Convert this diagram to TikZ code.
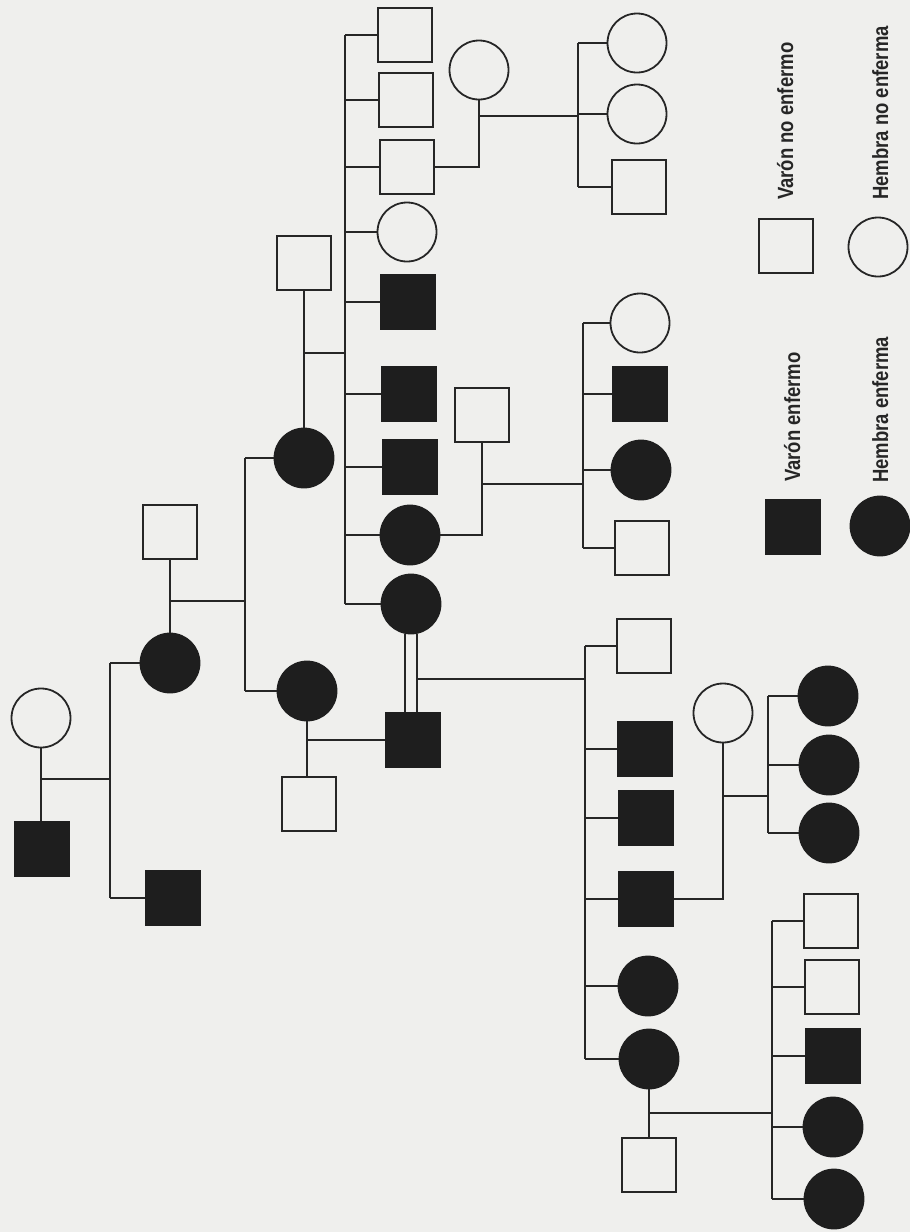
\documentclass[tikz,border=0pt]{standalone}
\usepackage{fontspec}
\setmainfont{Liberation Sans}
\newfontfamily\legfont[FakeStretch=0.84]{Liberation Sans}
\definecolor{bg}{RGB}{239,239,237}
\definecolor{ink}{RGB}{38,38,38}
\definecolor{dark}{RGB}{30,30,30}
\tikzset{
  ln/.style={draw=ink, line width=1.8pt},
  msq/.style={draw=ink, line width=1.8pt, minimum size=54pt, inner sep=0pt, rectangle},
  asq/.style={msq, fill=dark, draw=dark},
  fc/.style={draw=ink, line width=1.8pt, minimum size=59pt, inner sep=0pt, circle},
  ac/.style={fc, fill=dark, draw=dark},
  legtext/.style={rotate=90, anchor=base west, inner sep=0pt, font=\legfont\bfseries\fontsize{22}{24}\selectfont, text=ink}
}
\begin{document}
\begin{tikzpicture}[x=1pt,y=-1pt]
\useasboundingbox (0,0) rectangle (910,1232);
\fill[bg] (0,0) rectangle (910,1232);

% ---------- Generation I ----------
\node[fc]  (gm1) at (41,718) {};
\node[asq] (p1)  at (42,849) {};
\node[ac]  (f1)  at (170,663) {};
\node[asq] (m1)  at (173,898) {};
\node[msq] (s1)  at (170,532) {};

\coordinate (j0) at (42,779);
\coordinate (sA) at (110,779);
\draw[ln] (gm1.south) -- (gm1.south |- p1.north);
\draw[ln] (j0) -- (sA);
\draw[ln] (sA |- f1.west) -- (sA |- m1.west);
\draw[ln] (sA |- f1.west) -- (f1.west);
\draw[ln] (sA |- m1.west) -- (m1.west);

% ---------- Generation II ----------
\node[ac]  (f2) at (304,458) {};
\node[ac]  (f3) at (307,691) {};
\node[msq] (s2) at (304,263) {};
\node[msq] (s3) at (309,804) {};

\draw[ln] (s1.south) -- (f1.north);
\coordinate (j1) at (170,601);
\coordinate (sB) at (245,601);
\draw[ln] (j1) -- (sB);
\draw[ln] (sB |- f2.west) -- (sB |- f3.west);
\draw[ln] (sB |- f2.west) -- (f2.west);
\draw[ln] (sB |- f3.west) -- (f3.west);

% ---------- children of s2 x f2 ----------
\node[msq] (c1) at (405,35) {};
\node[msq] (c2) at (406,100) {};
\node[msq] (c3) at (407,167) {};
\node[fc]  (c4) at (407,232) {};
\node[asq] (c5) at (408,302) {};
\node[asq] (c6) at (409,394) {};
\node[asq] (c7) at (410,467) {};
\node[ac]  (c8) at (410,535) {};
\node[ac]  (c9) at (411,604) {};

\draw[ln] (s2.south) -- (f2.north);
\coordinate (j2) at (304,353);
\coordinate (sC) at (345,353);
\draw[ln] (j2) -- (sC);
\draw[ln] (sC |- c1.west) -- (sC |- c9.west);
\foreach \c in {c1,c2,c3,c4,c5,c6,c7,c8,c9}
  \draw[ln] (sC |- \c.west) -- (\c.west);

% ---------- f3 x s3 -> m2 ----------
\node[asq] (m2) at (413,740) {};
\draw[ln] (f3.south) -- (f3.south |- s3.north);
\draw[ln] (f3.south |- m2.west) -- (m2.west);

% consanguineous marriage c9 = m2
\coordinate (dA) at (405,634);
\coordinate (dB) at (417,634);
\draw[ln] (dA) -- (dA |- m2.north);
\draw[ln] (dB) -- (dB |- m2.north);

% ---------- children of c9 x m2 ----------
\node[msq] (g1) at (644,646) {};
\node[asq] (g2) at (645,749) {};
\node[asq] (g3) at (646,818) {};
\node[asq] (g4) at (646,899) {};
\node[ac]  (g5) at (648,986) {};
\node[ac]  (g6) at (649,1059) {};

\coordinate (j3) at (417,679);
\coordinate (sD) at (585,679);
\draw[ln] (j3) -- (sD);
\draw[ln] (sD |- g1.west) -- (sD |- g6.west);
\foreach \g in {g1,g2,g3,g4,g5,g6}
  \draw[ln] (sD |- \g.west) -- (\g.west);

% ---------- g4 x w1 ----------
\node[fc]  (w1) at (723,713) {};
\node[ac]  (h1) at (828,696) {};
\node[ac]  (h2) at (829,765) {};
\node[ac]  (h3) at (829,833) {};
\draw[ln] (g4.east) -| (w1.south);
\coordinate (j4) at (723,796);
\coordinate (sE) at (768,796);
\draw[ln] (j4) -- (sE);
\draw[ln] (sE |- h1.west) -- (sE |- h3.west);
\foreach \h in {h1,h2,h3}
  \draw[ln] (sE |- \h.west) -- (\h.west);

% ---------- g6 x s4 ----------
\node[msq] (s4) at (649,1165) {};
\node[msq] (k1) at (831,921) {};
\node[msq] (k2) at (832,987) {};
\node[asq] (k3) at (833,1056) {};
\node[ac]  (k4) at (833,1127) {};
\node[ac]  (k5) at (834,1199) {};
\draw[ln] (g6.south) -- (s4.north);
\coordinate (j5) at (649,1113);
\coordinate (sF) at (772,1113);
\draw[ln] (j5) -- (sF);
\draw[ln] (sF |- k1.west) -- (sF |- k5.west);
\foreach \k in {k1,k2,k3,k4,k5}
  \draw[ln] (sF |- \k.west) -- (\k.west);

% ---------- c3 x w2 ----------
\node[fc]  (w2) at (479,70) {};
\node[fc]  (d1) at (637,43) {};
\node[fc]  (d2) at (637,114) {};
\node[msq] (d3) at (639,187) {};
\draw[ln] (c3.east) -| (w2.south);
\coordinate (j6) at (479,116);
\coordinate (sG) at (578,116);
\draw[ln] (j6) -- (sG);
\draw[ln] (sG |- d1.west) -- (sG |- d3.west);
\foreach \d in {d1,d2,d3}
  \draw[ln] (sG |- \d.west) -- (\d.west);

% ---------- c8 x s5 ----------
\node[msq] (s5) at (482,415) {};
\node[fc]  (e1) at (640,323) {};
\node[asq] (e2) at (640,394) {};
\node[ac]  (e3) at (641,470) {};
\node[msq] (e4) at (642,548) {};
\draw[ln] (c8.east) -| (s5.south);
\coordinate (j7) at (482,484);
\coordinate (sH) at (583,484);
\draw[ln] (j7) -- (sH);
\draw[ln] (sH |- e1.west) -- (sH |- e4.west);
\foreach \e in {e1,e2,e3,e4}
  \draw[ln] (sH |- \e.west) -- (\e.west);

% ---------- legend ----------
\node[msq] (L1) at (786,246) {};
\node[fc]  (L2) at (878,247) {};
\node[asq] (L3) at (793,527) {};
\node[ac]  (L4) at (880,526) {};
\node[legtext] (T1) at (793,200) {Varón no enfermo};
\node[legtext] (T2) at (888,200) {Hembra no enferma};
\node[legtext] (T3) at (800,482) {Varón enfermo};
\node[legtext] (T4) at (888,483) {Hembra enferma};
\end{tikzpicture}
\end{document}
